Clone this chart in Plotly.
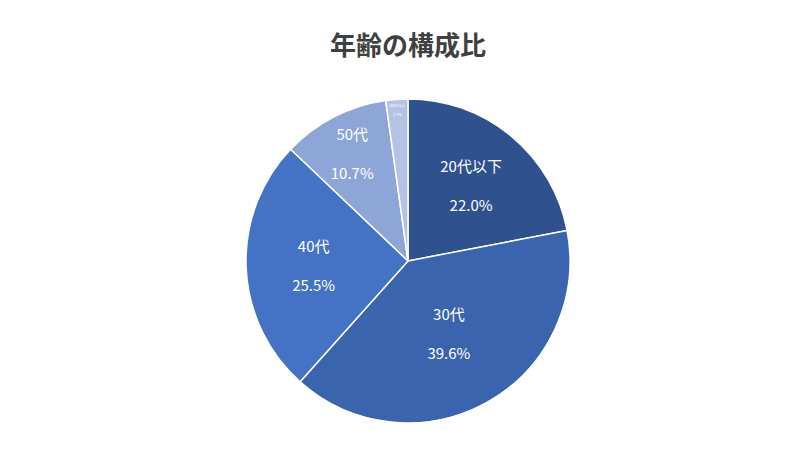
import plotly.graph_objects as go

labels = ["20代以下", "30代", "40代", "50代", "60代以上"]
values = [22.0, 39.6, 25.5, 10.7, 2.2]
colors = ["#2F528F", "#3A64AD", "#4472C4", "#8EA5D7", "#B4C2E6"]
font_sizes = [15, 15, 15, 15, 11]

fig = go.Figure(go.Pie(
    labels=labels, values=values, sort=False, direction="clockwise", rotation=0,
    marker=dict(colors=colors, line=dict(color="white", width=1.5)),
    texttemplate="%{label}<br><br>%{value:.1f}%", textposition="inside",
    insidetextorientation="horizontal",
    textfont=dict(color="white", size=font_sizes, family="Noto Sans CJK JP"),
    domain=dict(x=[0, 1], y=[0.078, 0.798]), showlegend=False, hoverinfo="none",
))
fig.update_layout(
    width=800, height=450, margin=dict(l=0, r=0, t=0, b=0),
    paper_bgcolor="white", plot_bgcolor="white",
    title=dict(text="<b>年齢の構成比</b>", x=0.5, y=0.915, xanchor="center", yanchor="middle",
               font=dict(size=26, color="#404040", family="Noto Sans CJK JP")),
    uniformtext=dict(minsize=8, mode=False),
)
fig.write_html("out.html")
